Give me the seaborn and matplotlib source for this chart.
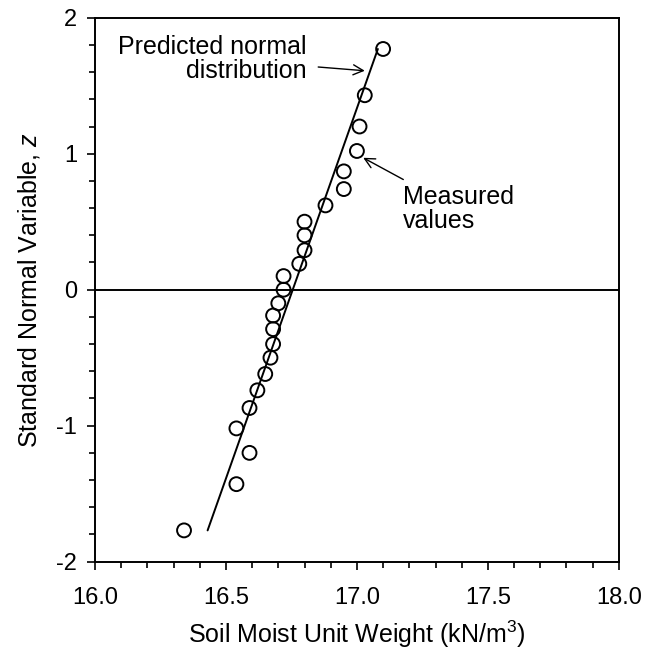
import matplotlib
matplotlib.use("Agg")
import matplotlib.pyplot as plt
from matplotlib.ticker import MultipleLocator
import seaborn as sns
import pandas as pd

# Measured soil moist unit weights (kN/m^3) and their standard normal variables
unit_weight = [17.10, 17.03, 17.01, 17.00, 16.95, 16.95, 16.88, 16.80, 16.80,
               16.80, 16.78, 16.72, 16.72, 16.70, 16.68, 16.68, 16.68, 16.67,
               16.65, 16.62, 16.59, 16.54, 16.59, 16.54, 16.34]
z_value = [1.77, 1.43, 1.20, 1.02, 0.87, 0.74, 0.62, 0.50, 0.40, 0.29, 0.19,
           0.10, 0.00, -0.10, -0.19, -0.29, -0.40, -0.50, -0.62, -0.74, -0.87,
           -1.02, -1.20, -1.43, -1.77]

# Fitted normal distribution line (end points)
pred_x = [16.43, 17.08]
pred_z = [-1.77, 1.77]

x_ticks = [16.0, 16.5, 17.0, 17.5, 18.0]
y_ticks = [-2, -1, 0, 1, 2]

sns.set_theme(style="ticks")
plt.rcParams["font.family"] = ["Liberation Sans", "DejaVu Sans"]
plt.rcParams["mathtext.fontset"] = "custom"
plt.rcParams["mathtext.rm"] = "Liberation Sans"
plt.rcParams["mathtext.it"] = "Liberation Sans:italic"
plt.rcParams["text.color"] = "black"

measured = pd.DataFrame({"w": unit_weight, "z": z_value})
predicted = pd.DataFrame({"w": pred_x, "z": pred_z})

fig = plt.figure(figsize=(6.46, 6.56), dpi=100)
ax = fig.add_axes([0.147, 0.1438, 0.811, 0.8292])

ax.axhline(0, color="black", lw=1.4, zorder=1)
sns.lineplot(data=predicted, x="w", y="z", ax=ax, color="black", lw=1.4,
             sort=False, zorder=2)
sns.scatterplot(data=measured, x="w", y="z", ax=ax, s=100, marker="o",
                facecolors="none", edgecolor="black", linewidth=1.4, zorder=3)

ax.set_xlim(16.0, 18.0)
ax.set_ylim(-2, 2)
ax.set_xticks(x_ticks)
ax.set_xticklabels([f"{t:.1f}" for t in x_ticks])
ax.set_yticks(y_ticks)
ax.set_yticklabels([str(t) for t in y_ticks])
ax.xaxis.set_minor_locator(MultipleLocator(0.1))
ax.yaxis.set_minor_locator(MultipleLocator(0.2))
ax.tick_params(which="major", direction="out", length=6, width=1.2,
               labelsize=17, color="black", labelcolor="black")
ax.tick_params(axis="x", which="major", pad=12)
ax.tick_params(axis="y", which="major", pad=7)
ax.tick_params(which="minor", direction="out", length=4, width=1.2,
               color="black")
ax.tick_params(top=False, right=False, which="both")

for sp in ax.spines.values():
    sp.set_visible(True)
    sp.set_linewidth(1.4)
    sp.set_color("black")

ax.set_xlabel("Soil Moist Unit Weight (kN/m$^3$)", fontsize=18, labelpad=7,
              color="black")
ax.set_ylabel("Standard Normal Variable, $\\mathit{z}$", fontsize=18,
              labelpad=10, color="black")

ax.annotate("Predicted normal\ndistribution", xy=(17.03, 1.61),
            xytext=(16.808, 1.70), fontsize=18, ha="right", va="center",
            linespacing=1.0, color="black",
            arrowprops=dict(arrowstyle="->", color="black", lw=1.0,
                            shrinkA=6, shrinkB=0))
ax.annotate("Measured\nvalues", xy=(17.024, 0.97),
            xytext=(17.176, 0.59), fontsize=18, ha="left", va="center",
            linespacing=1.0, color="black",
            arrowprops=dict(arrowstyle="->", color="black", lw=1.0,
                            shrinkA=4, shrinkB=0))

fig.savefig("out.png", dpi=100)
